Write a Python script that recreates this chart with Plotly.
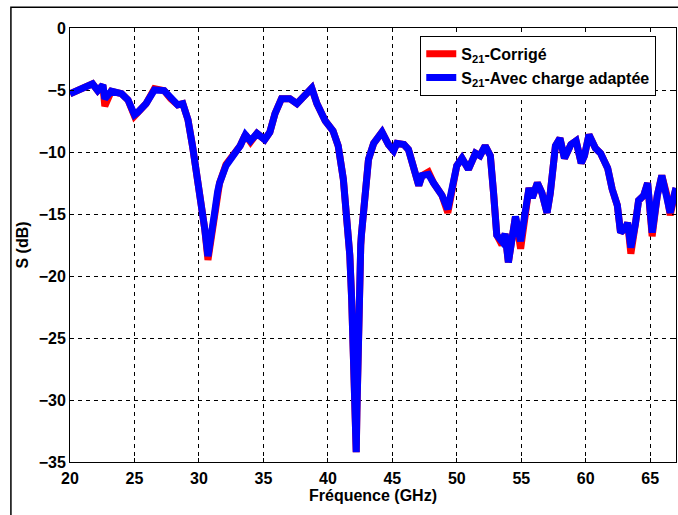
import plotly.graph_objects as go

# frequency points (GHz)
freq = [20.0, 20.85, 21.75, 22.15, 22.55, 22.7, 23.2, 24.0, 24.5, 25.0,
        25.25, 25.9, 26.55, 27.3, 27.8, 28.35, 28.75, 29.15, 29.5, 29.8,
        30.2, 30.45, 30.7, 30.95, 31.2, 31.45, 31.6, 32.1, 32.8, 33.2,
        33.6, 34.0, 34.5, 35.1, 35.5, 35.9, 36.4, 37.05, 37.6, 38.35,
        38.75, 39.15, 39.8, 40.4, 40.8, 41.2, 41.45, 41.7, 41.85, 41.95,
        42.05, 42.15, 42.2, 42.25, 42.3, 42.35, 42.45, 42.55, 42.6, 42.9,
        43.15, 43.55, 43.95, 44.2, 44.7, 45.1, 45.35, 45.9, 46.25, 46.65,
        47.05, 47.3, 47.8, 48.2, 48.85, 49.3, 49.6, 50.0, 50.4, 50.9,
        51.45, 51.8, 52.2, 52.6, 52.85, 53.1, 53.5, 53.75, 54.0, 54.3,
        54.55, 54.95, 55.35, 55.6, 55.85, 56.25, 56.6, 57.0, 57.25, 57.65,
        58.0, 58.35, 58.85, 59.25, 59.65, 59.9, 60.25, 60.75, 61.15, 61.7,
        62.05, 62.45, 62.7, 63.1, 63.25, 63.5, 63.85, 64.1, 64.5, 64.8,
        65.15, 65.55, 65.9, 66.3, 66.55, 66.9, 67.0]

# S21 with matched load (blue)
s21_adapt = [-5.3, -4.9, -4.5, -5.05, -4.6, -5.7, -5.1, -5.3, -5.8, -7.0,
             -6.8, -6.1, -5.0, -5.05, -5.7, -6.2, -6.1, -7.4, -9.5, -11.4,
             -14.1, -16.2, -18.4, -17.0, -15.0, -13.2, -12.5, -11.1, -10.2, -9.5,
             -8.6, -9.1, -8.5, -9.0, -8.4, -6.9, -5.7, -5.7, -6.1, -5.4,
             -4.85, -6.1, -7.5, -8.3, -9.5, -12.2, -14.8, -18.3, -22.0, -26.0,
             -30.0, -33.0, -34.2, -31.0, -27.0, -24.0, -20.0, -17.5, -16.7, -13.3,
             -10.6, -9.3, -8.6, -8.4, -9.4, -9.9, -9.3, -9.4, -9.8, -11.1,
             -12.7, -11.9, -11.8, -12.5, -13.5, -14.6, -13.3, -11.1, -10.5, -11.4,
             -10.1, -10.3, -9.5, -10.3, -13.3, -16.7, -17.2, -16.6, -18.9, -16.7,
             -15.2, -17.2, -14.6, -12.9, -13.7, -12.5, -13.3, -14.9, -13.3, -9.5,
             -8.9, -10.5, -9.4, -9.1, -10.9, -10.3, -8.6, -9.7, -10.1, -11.3,
             -13.0, -14.3, -16.5, -16.1, -15.7, -17.7, -15.8, -13.9, -13.5, -12.5,
             -16.5, -13.5, -11.9, -13.5, -14.9, -13.3, -12.9]

# S21 corrected (red)
s21_corr = [-5.3, -4.9, -4.5, -5.05, -4.6, -6.3, -5.1, -5.3, -5.8, -7.1,
            -6.8, -6.1, -4.9, -5.05, -5.7, -6.2, -6.1, -7.4, -9.5, -11.4,
            -14.1, -16.2, -18.7, -17.0, -15.0, -13.2, -12.5, -11.0, -10.1, -9.5,
            -8.6, -9.2, -8.5, -9.0, -8.4, -6.9, -5.7, -5.7, -6.1, -5.4,
            -4.85, -6.1, -7.5, -8.3, -9.5, -12.2, -14.8, -18.3, -22.0, -26.0,
            -30.0, -33.0, -34.2, -31.0, -27.0, -24.0, -20.0, -17.5, -16.7, -13.3,
            -10.6, -9.3, -8.6, -8.4, -9.4, -9.9, -9.3, -9.4, -9.8, -11.1,
            -12.7, -11.9, -11.6, -12.5, -13.5, -14.9, -13.3, -11.1, -10.5, -11.4,
            -10.1, -10.3, -9.5, -10.3, -13.3, -16.7, -17.5, -16.6, -18.9, -16.7,
            -15.2, -17.8, -14.6, -12.9, -13.7, -12.5, -13.3, -14.9, -13.3, -9.5,
            -8.9, -10.5, -9.4, -9.1, -10.9, -10.3, -8.6, -9.7, -10.1, -11.3,
            -13.0, -14.3, -16.5, -16.1, -15.7, -18.2, -15.8, -13.9, -13.5, -12.5,
            -16.8, -13.5, -11.9, -13.5, -15.1, -13.3, -12.9]

x_ticks = [20, 25, 30, 35, 40, 45, 50, 55, 60, 65]
y_ticks = [0, -5, -10, -15, -20, -25, -30, -35]

FONT = "Liberation Sans"
TXT = dict(family=FONT, size=16, color="black", weight="bold")

fig = go.Figure()

fig.add_trace(go.Scatter(
    x=freq, y=s21_corr, mode="lines",
    line=dict(color="#ff0000", width=7),
    name="S<sub>21</sub>-Corrigé",
))
fig.add_trace(go.Scatter(
    x=freq, y=s21_adapt, mode="lines",
    line=dict(color="#0000ff", width=7),
    name="S<sub>21</sub>-Avec charge adaptée",
))

axis_common = dict(
    showline=True, linecolor="black", linewidth=1, mirror="ticks",
    ticks="inside", ticklen=4, tickcolor="black",
    showgrid=True, gridcolor="black", gridwidth=1, griddash="4px,4px",
    zeroline=False,
    tickfont=TXT,
)

fig.update_xaxes(
    range=[20, 67], tickvals=x_ticks,
    ticklabelstandoff=2,
    title=dict(text="Fréquence (GHz)", standoff=2, font=TXT),
    **axis_common,
)
fig.update_yaxes(
    range=[-35, 0], tickvals=y_ticks,
    title=dict(text="S (dB)", standoff=6, font=TXT),
    **axis_common,
)

# outer figure frame
fig.add_shape(type="rect", xref="paper", yref="paper",
              x0=-0.0975, x1=1.01, y0=-0.2, y1=1.048,
              line=dict(color="black", width=1.5), fillcolor="rgba(0,0,0,0)",
              layer="below")

fig.update_layout(
    width=678, height=515,
    margin=dict(l=70, r=2, t=28, b=53, autoexpand=False),
    paper_bgcolor="white", plot_bgcolor="white",
    showlegend=True,
    legend=dict(
        x=0.578, y=0.982, xanchor="left", yanchor="top",
        bgcolor="white", bordercolor="black", borderwidth=1,
        font=TXT,
        tracegroupgap=2,
    ),
)

fig.write_html("out.html", config={"displayModeBar": False},
               post_script="document.body.style.margin='0';")
